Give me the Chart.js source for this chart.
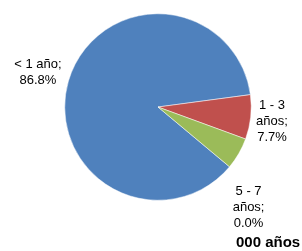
<!DOCTYPE html>
<html>
<head>
<meta charset="utf-8">
<script src="https://cdn.jsdelivr.net/npm/chart.js@4"></script>
<style>
  html, body { margin: 0; padding: 0; background: #fff; }
  #wrap { width: 302px; height: 251px; position: relative; }
</style>
</head>
<body>
<div id="wrap"><canvas id="pieChart"></canvas></div>
<script>
const categories = ["< 1 año", "1 - 3 años", "3 - 5 años", "5 - 7 años"];
const shares = [86.8, 7.7, 5.5, 0.0];
const sliceColors = ["#4f81bd", "#c0504d", "#9bbb59", "#8064a2"];

// label lines + distance from centre (as multiple of radius) + nudge
const labelLayout = [
  { lines: ["< 1 año;", "86.8%"], dist: 1.34, dx: 0, dy: 0 },
  { lines: ["1 - 3", "años;", "7.7%"], dist: 1.23, dx: 0, dy: 1.5 },
  null,
  { lines: ["5 - 7", "años;", "0.0%"], dist: 1.35, dx: -6, dy: 20 },
];

const pieLabels = {
  id: "pieLabels",
  afterDraw(chart) {
    const ctx = chart.ctx;
    const arcs = chart.getDatasetMeta(0).data;
    ctx.save();
    ctx.fillStyle = "#000";
    ctx.font = "13px 'Liberation Sans', Arial, sans-serif";
    ctx.textAlign = "center";
    ctx.textBaseline = "middle";
    arcs.forEach((arc, i) => {
      const lay = labelLayout[i];
      if (!lay) return;
      const mid = (arc.startAngle + arc.endAngle) / 2;
      const r = arc.outerRadius * lay.dist;
      const x = arc.x + Math.cos(mid) * r + lay.dx;
      const y = arc.y + Math.sin(mid) * r + lay.dy;
      const lh = 16;
      const top = y - ((lay.lines.length - 1) * lh) / 2;
      lay.lines.forEach((t, k) => ctx.fillText(t, x, top + k * lh));
    });
    // clipped title text at the bottom edge
    ctx.font = "bold 15px 'Liberation Sans', Arial, sans-serif";
    ctx.textAlign = "left";
    ctx.fillText("000 años", 236, 243);
    ctx.restore();
  },
};

new Chart(document.getElementById("pieChart"), {
  type: "pie",
  data: {
    labels: categories,
    datasets: [
      {
        data: shares,
        backgroundColor: sliceColors,
        borderColor: "#ffffff",
        borderWidth: 0.5,
      },
    ],
  },
  options: {
    responsive: true,
    maintainAspectRatio: false,
    animation: false,
    rotation: 129.9,
    layout: { padding: { left: 64.5, right: 50.5, top: 13.5, bottom: 50.5 } },
    plugins: {
      legend: { display: false },
      tooltip: { enabled: false },
    },
  },
  plugins: [pieLabels],
});
</script>
</body>
</html>
